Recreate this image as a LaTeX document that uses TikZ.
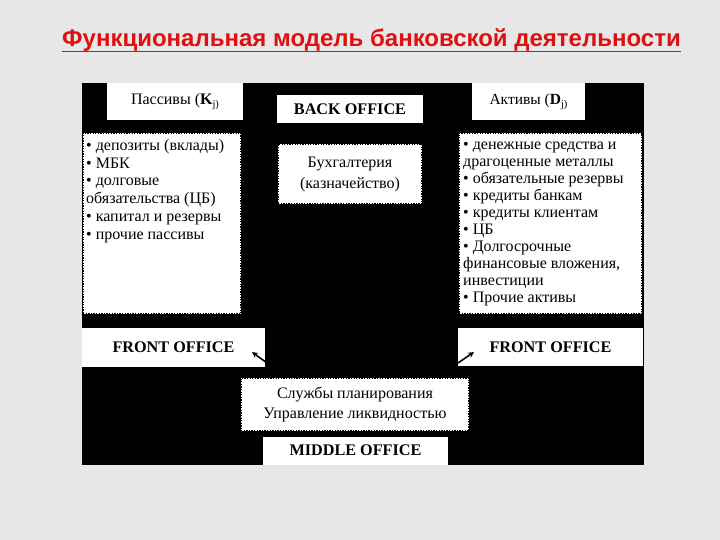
\documentclass[tikz,border=0pt]{standalone}
\usepackage{fontspec}
\setmainfont{Liberation Serif}
\newfontfamily\titlefont{Liberation Sans}
\definecolor{bgc}{RGB}{231,231,231}
\definecolor{titlered}{RGB}{222,16,16}
\begin{document}
\begin{tikzpicture}[x=1pt,y=-1pt,
  wbox/.style={fill=white,inner sep=0pt,text=black},
  dbox/.style={wbox,draw=black,line width=1.3pt,dash pattern=on 1.3pt off 1.3pt},
  boldlbl/.style={font={\fontsize{16.2}{18}\selectfont\bfseries}},
  txt/.style={font={\fontsize{16}{17.8}\selectfont},align=left,inner sep=0pt,anchor=north west},
  ctxt/.style={font={\fontsize{16}{21}\selectfont},align=center},
  arr/.style={-stealth,line width=1.6pt,black}]
\useasboundingbox (0,0) rectangle (720,540);
\fill[bgc] (0,0) rectangle (720,540);
% title
\node[anchor=base west,inner sep=0pt,text=titlered,font={\titlefont\fontsize{24}{27}\selectfont\bfseries}] (title) at (62,47) {Функциональная модель банковской деятельности};
\draw[titlered,line width=1.9pt] ([yshift=-4.5pt]title.base west) -- ([yshift=-4.5pt]title.base east);
% black panel
\node[fill=black,inner sep=0pt,minimum width=562,minimum height=382] (panel) at (363,274) {};
% headers
\node[wbox,minimum width=136,minimum height=37,font={\fontsize{16}{18}\selectfont}] (pas) at (175,101.5) {Пассивы (\textbf{K}\raisebox{-0.35ex}{\fontsize{10.5}{10}\selectfont j)}};
\node[wbox,minimum width=113,minimum height=37,font={\fontsize{15.5}{17}\selectfont}] (akt) at (528.5,101.5) {Активы (\textbf{D}\raisebox{-0.35ex}{\fontsize{10.5}{10}\selectfont j)}};
\node[wbox,boldlbl,minimum width=146,minimum height=28] (back) at (350,109) {BACK OFFICE};
% dotted boxes
\node[dbox,minimum width=158,minimum height=181] (lbox) at (162,223.5) {};
\node[txt] (ltext) at (86,139) {\textbullet\ депозиты (вклады)\\
\textbullet\ МБК\\
\textbullet\ долговые\\
обязательства (ЦБ)\\
\textbullet\ капитал и резервы\\
\textbullet\ прочие пассивы};
\node[dbox,minimum width=183,minimum height=181] (rbox) at (550.5,223.5) {};
\node[txt,font={\fontsize{16}{17}\selectfont}] (rtext) at (463,141.5) {\textbullet\ денежные средства и\\
драгоценные металлы\\
\textbullet\ обязательные резервы\\
\textbullet\ кредиты банкам\\
\textbullet\ кредиты клиентам\\
\textbullet\ ЦБ\\
\textbullet\ Долгосрочные\\
финансовые вложения,\\
инвестиции\\
\textbullet\ Прочие активы};
\node[dbox,ctxt,minimum width=144,minimum height=60] (buh) at (350,174) {Бухгалтерия\\(казначейство)};
% front offices
\node[wbox,boldlbl,minimum width=183,minimum height=39] (fl) at (173.5,347.5) {FRONT OFFICE};
\node[wbox,boldlbl,minimum width=185,minimum height=38] (fr) at (550.5,347) {FRONT OFFICE};
% middle
\node[dbox,ctxt,minimum width=228,minimum height=53,font={\fontsize{16}{20}\selectfont}] (sl) at (355,404.5) {Службы планирования\\Управление ликвидностью};
\node[wbox,boldlbl,minimum width=185,minimum height=28] (mid) at (355.5,450.5) {MIDDLE OFFICE};
% arrows
\coordinate (la1) at (267,363);
\coordinate (la2) at (252,352);
\coordinate (ra1) at (458,363);
\coordinate (ra2) at (474,352);
\draw[arr] (la1) -- (la2);
\draw[arr] (ra1) -- (ra2);
\end{tikzpicture}
\end{document}
